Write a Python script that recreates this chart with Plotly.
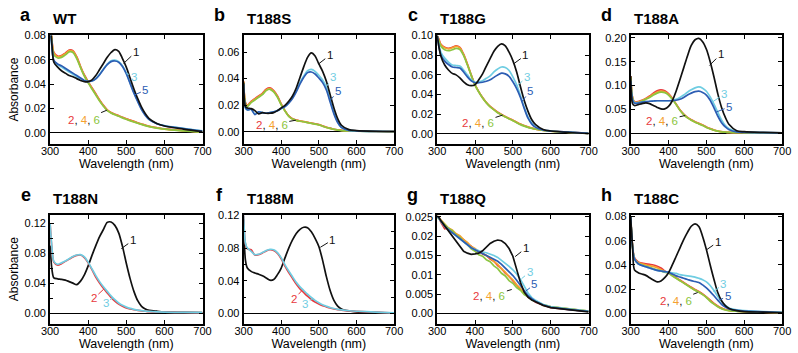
import plotly.graph_objects as go

# ---------------- data ----------------
WL = [300, 305, 310, 320, 330, 340, 350, 360, 370, 380, 390, 400, 410, 420, 430, 440, 450, 460,
      470, 480, 490, 500, 510, 520, 530, 540, 550, 560, 580, 600, 650, 700]

# a  WT
A1 = [0.095, 0.072, 0.058, 0.054, 0.051, 0.049, 0.047, 0.046, 0.0445, 0.043, 0.042, 0.042, 0.0435, 0.047, 0.052, 0.057, 0.062, 0.066, 0.0684, 0.067, 0.061, 0.054, 0.045, 0.036, 0.028, 0.021, 0.0155, 0.0115, 0.0075, 0.0055, 0.003, 0.0008]
A2 = [0.100, 0.076, 0.066, 0.063, 0.0635, 0.0655, 0.068, 0.0675, 0.0625, 0.0545, 0.0475, 0.042, 0.037, 0.032, 0.027, 0.0225, 0.0188, 0.0167, 0.0152, 0.014, 0.0127, 0.0115, 0.0103, 0.0093, 0.0082, 0.0072, 0.0062, 0.0053, 0.0041, 0.0031, 0.0017, 0.0005]
A3 = [0.092, 0.070, 0.059, 0.056, 0.054, 0.052, 0.050, 0.048, 0.046, 0.0445, 0.0425, 0.042, 0.0425, 0.0445, 0.048, 0.0525, 0.0565, 0.0592, 0.0598, 0.0585, 0.055, 0.049, 0.041, 0.033, 0.026, 0.0195, 0.0145, 0.011, 0.0075, 0.0058, 0.0035, 0.0015]
A4 = [0.100, 0.075, 0.0655, 0.0625, 0.063, 0.065, 0.0675, 0.067, 0.062, 0.054, 0.047, 0.0415, 0.0365, 0.0315, 0.0265, 0.0222, 0.0185, 0.0165, 0.015, 0.0138, 0.0125, 0.0113, 0.0101, 0.0091, 0.008, 0.007, 0.006, 0.0052, 0.004, 0.003, 0.0016, 0.0005]
A5 = [0.092, 0.071, 0.0595, 0.0565, 0.055, 0.053, 0.051, 0.049, 0.047, 0.045, 0.043, 0.0422, 0.0425, 0.0443, 0.0477, 0.052, 0.056, 0.0585, 0.059, 0.058, 0.0545, 0.0485, 0.0405, 0.0325, 0.0255, 0.019, 0.0142, 0.0108, 0.0074, 0.0057, 0.0034, 0.0014]
A6 = [0.098, 0.074, 0.064, 0.0615, 0.062, 0.064, 0.0665, 0.066, 0.061, 0.0535, 0.0465, 0.041, 0.036, 0.031, 0.026, 0.0218, 0.0182, 0.0162, 0.0147, 0.0135, 0.0122, 0.011, 0.0098, 0.0088, 0.0078, 0.0068, 0.0058, 0.005, 0.0038, 0.0029, 0.0015, 0.0004]

# b  T188S
B1 = [0.037, 0.019, 0.018, 0.0175, 0.016, 0.0135, 0.0145, 0.014, 0.014, 0.0145, 0.016, 0.018, 0.020, 0.023, 0.027, 0.033, 0.041, 0.049, 0.056, 0.0593, 0.057, 0.051, 0.0455, 0.038, 0.028, 0.018, 0.010, 0.005, 0.0017, 0.001, 0.0005, 0.0003]
B2 = [0.038, 0.022, 0.020, 0.023, 0.025, 0.027, 0.029, 0.032, 0.033, 0.031, 0.027, 0.021, 0.016, 0.012, 0.0098, 0.0088, 0.0082, 0.0078, 0.0072, 0.0066, 0.006, 0.0055, 0.0045, 0.0035, 0.0028, 0.002, 0.0015, 0.0011, 0.0008, 0.0006, 0.0004, 0.0002]
B3 = [0.036, 0.018, 0.0165, 0.017, 0.0135, 0.015, 0.0145, 0.014, 0.0145, 0.015, 0.016, 0.0175, 0.019, 0.022, 0.026, 0.031, 0.037, 0.042, 0.046, 0.047, 0.0455, 0.0425, 0.039, 0.0335, 0.024, 0.0145, 0.0075, 0.0035, 0.0012, 0.0008, 0.0004, 0.0003]
B4 = [0.038, 0.0215, 0.0195, 0.0225, 0.0245, 0.0265, 0.0285, 0.0315, 0.0325, 0.0305, 0.0265, 0.0205, 0.0158, 0.0118, 0.0097, 0.0087, 0.0081, 0.0077, 0.0071, 0.0065, 0.0059, 0.0054, 0.0044, 0.0034, 0.0027, 0.002, 0.0015, 0.0011, 0.0008, 0.0006, 0.0004, 0.0002]
B5 = [0.036, 0.018, 0.0165, 0.017, 0.013, 0.015, 0.0145, 0.014, 0.0145, 0.015, 0.016, 0.0175, 0.019, 0.0215, 0.025, 0.030, 0.036, 0.041, 0.0445, 0.045, 0.0435, 0.0405, 0.037, 0.0315, 0.0225, 0.0135, 0.007, 0.0032, 0.0012, 0.0008, 0.0004, 0.0003]
B6 = [0.037, 0.021, 0.019, 0.022, 0.024, 0.026, 0.028, 0.031, 0.032, 0.030, 0.026, 0.0203, 0.0157, 0.0117, 0.0096, 0.0086, 0.008, 0.0076, 0.007, 0.0064, 0.0058, 0.0053, 0.0043, 0.0033, 0.0026, 0.0019, 0.0014, 0.001, 0.0007, 0.0005, 0.0003, 0.0002]

# c  T188G
C1 = [0.10, 0.088, 0.079, 0.070, 0.065, 0.0615, 0.060, 0.057, 0.053, 0.050, 0.049, 0.050, 0.055, 0.061, 0.069, 0.0765, 0.084, 0.089, 0.0915, 0.0895, 0.083, 0.0745, 0.063, 0.048, 0.034, 0.023, 0.0144, 0.0094, 0.0045, 0.003, 0.0015, 0.0005]
C2 = [0.10, 0.096, 0.091, 0.088, 0.087, 0.088, 0.0895, 0.088, 0.081, 0.071, 0.060, 0.050, 0.043, 0.037, 0.032, 0.028, 0.025, 0.022, 0.0198, 0.0178, 0.0158, 0.014, 0.012, 0.010, 0.0085, 0.007, 0.006, 0.005, 0.0038, 0.003, 0.0018, 0.0006]
C3 = [0.10, 0.090, 0.083, 0.077, 0.073, 0.070, 0.0695, 0.069, 0.065, 0.060, 0.055, 0.0525, 0.053, 0.054, 0.0565, 0.059, 0.063, 0.066, 0.068, 0.0675, 0.0645, 0.058, 0.050, 0.039, 0.027, 0.017, 0.011, 0.0072, 0.004, 0.003, 0.0018, 0.0006]
C4 = [0.10, 0.095, 0.0905, 0.0875, 0.0865, 0.0875, 0.089, 0.0875, 0.0805, 0.0705, 0.0597, 0.0498, 0.0428, 0.0368, 0.0318, 0.0278, 0.0248, 0.0218, 0.0196, 0.0176, 0.0156, 0.0138, 0.0118, 0.0098, 0.0083, 0.0069, 0.0059, 0.0049, 0.0037, 0.0029, 0.0017, 0.0006]
C5 = [0.10, 0.088, 0.080, 0.074, 0.0705, 0.068, 0.0675, 0.067, 0.063, 0.058, 0.054, 0.052, 0.052, 0.0525, 0.0535, 0.055, 0.0575, 0.060, 0.0617, 0.061, 0.0585, 0.053, 0.046, 0.037, 0.026, 0.016, 0.010, 0.0067, 0.004, 0.003, 0.0018, 0.0006]
C6 = [0.10, 0.094, 0.089, 0.0855, 0.0845, 0.0855, 0.087, 0.0858, 0.0795, 0.070, 0.0595, 0.0497, 0.0426, 0.0366, 0.0316, 0.0276, 0.0245, 0.0215, 0.0193, 0.0173, 0.0153, 0.0135, 0.0115, 0.0095, 0.008, 0.0067, 0.0057, 0.0048, 0.0036, 0.0028, 0.0016, 0.0005]

# d  T188A
D1 = [0.12, 0.062, 0.058, 0.060, 0.062, 0.0635, 0.062, 0.058, 0.054, 0.051, 0.051, 0.056, 0.068, 0.088, 0.112, 0.137, 0.162, 0.184, 0.196, 0.199, 0.192, 0.176, 0.150, 0.118, 0.083, 0.054, 0.033, 0.018, 0.005, 0.003, 0.0015, 0.0005]
D2 = [0.12, 0.075, 0.066, 0.066, 0.069, 0.073, 0.078, 0.084, 0.089, 0.091, 0.089, 0.083, 0.073, 0.061, 0.049, 0.040, 0.033, 0.028, 0.024, 0.0205, 0.017, 0.013, 0.0095, 0.0065, 0.0045, 0.003, 0.0022, 0.0016, 0.001, 0.0007, 0.0004, 0.0002]
D3 = [0.11, 0.070, 0.064, 0.064, 0.065, 0.066, 0.067, 0.0675, 0.068, 0.068, 0.068, 0.068, 0.069, 0.071, 0.075, 0.080, 0.086, 0.091, 0.095, 0.097, 0.0945, 0.088, 0.076, 0.061, 0.044, 0.028, 0.016, 0.009, 0.003, 0.002, 0.001, 0.0005]
D4 = [0.119, 0.0745, 0.065, 0.065, 0.068, 0.072, 0.0765, 0.082, 0.0865, 0.088, 0.087, 0.0815, 0.072, 0.0605, 0.0485, 0.0395, 0.0325, 0.0275, 0.0235, 0.02, 0.0165, 0.0125, 0.0092, 0.0063, 0.0043, 0.0029, 0.0021, 0.0015, 0.001, 0.0007, 0.0004, 0.0002]
D5 = [0.11, 0.070, 0.063, 0.063, 0.065, 0.066, 0.067, 0.0675, 0.068, 0.068, 0.068, 0.068, 0.068, 0.069, 0.071, 0.075, 0.080, 0.084, 0.087, 0.088, 0.0855, 0.080, 0.069, 0.053, 0.036, 0.022, 0.013, 0.007, 0.0025, 0.0015, 0.001, 0.0005]
D6 = [0.118, 0.074, 0.064, 0.064, 0.067, 0.071, 0.075, 0.080, 0.084, 0.086, 0.085, 0.080, 0.071, 0.060, 0.048, 0.039, 0.032, 0.027, 0.023, 0.0195, 0.016, 0.012, 0.009, 0.006, 0.0042, 0.0028, 0.002, 0.0015, 0.001, 0.0007, 0.0004, 0.0002]

# e  T188N
E1 = [0.090, 0.058, 0.047, 0.0457, 0.045, 0.044, 0.042, 0.040, 0.038, 0.0426, 0.051, 0.063, 0.077, 0.090, 0.102, 0.1115, 0.121, 0.1215, 0.117, 0.107, 0.089, 0.0665, 0.046, 0.029, 0.0165, 0.009, 0.0055, 0.0038, 0.0025, 0.0015, 0.001, 0.0005]
E2 = [0.12, 0.085, 0.068, 0.064, 0.066, 0.069, 0.072, 0.075, 0.077, 0.0775, 0.074, 0.067, 0.058, 0.048, 0.040, 0.033, 0.027, 0.021, 0.016, 0.012, 0.0092, 0.007, 0.0055, 0.0045, 0.0037, 0.003, 0.0025, 0.002, 0.0015, 0.0012, 0.0008, 0.0004]
E3 = [0.12, 0.087, 0.069, 0.065, 0.067, 0.0695, 0.0725, 0.0755, 0.0775, 0.078, 0.075, 0.068, 0.059, 0.050, 0.042, 0.035, 0.029, 0.023, 0.018, 0.0135, 0.0103, 0.008, 0.0062, 0.005, 0.004, 0.0033, 0.0027, 0.0022, 0.0016, 0.0013, 0.0009, 0.0005]

# f  T188M
F1 = [0.115, 0.065, 0.0556, 0.0515, 0.0495, 0.048, 0.046, 0.0435, 0.0407, 0.0415, 0.0475, 0.0556, 0.068, 0.080, 0.090, 0.098, 0.103, 0.1055, 0.105, 0.100, 0.092, 0.082, 0.065, 0.045, 0.028, 0.016, 0.009, 0.0055, 0.003, 0.0018, 0.001, 0.0005]
F2 = [0.12, 0.085, 0.079, 0.078, 0.0715, 0.072, 0.074, 0.0765, 0.078, 0.077, 0.0735, 0.067, 0.058, 0.050, 0.043, 0.036, 0.030, 0.0255, 0.021, 0.017, 0.014, 0.0115, 0.0095, 0.008, 0.0066, 0.0055, 0.0047, 0.004, 0.003, 0.0025, 0.0015, 0.0005]
F3 = [0.12, 0.086, 0.080, 0.076, 0.072, 0.0725, 0.0745, 0.077, 0.0785, 0.078, 0.0745, 0.068, 0.0595, 0.052, 0.045, 0.038, 0.0325, 0.028, 0.0235, 0.0195, 0.016, 0.013, 0.0105, 0.0088, 0.0072, 0.006, 0.005, 0.0043, 0.0032, 0.0026, 0.0016, 0.0006]

# g  T188Q
G1 = [0.0252, 0.0248, 0.0240, 0.0227, 0.0212, 0.0200, 0.0186, 0.0174, 0.0161, 0.0156, 0.0153, 0.0154, 0.0156, 0.0162, 0.0172, 0.0181, 0.0187, 0.0190, 0.0188, 0.0181, 0.0168, 0.0148, 0.0114, 0.0080, 0.0055, 0.0042, 0.0035, 0.0030, 0.0021, 0.0015, 0.0009, 0.0004]
G2 = [0.0250, 0.0246, 0.0236, 0.0219, 0.0221, 0.0209, 0.0206, 0.0196, 0.0191, 0.0180, 0.0174, 0.0165, 0.0161, 0.0154, 0.0150, 0.0141, 0.0135, 0.0124, 0.0116, 0.0104, 0.0096, 0.0084, 0.0075, 0.0062, 0.0053, 0.0042, 0.0037, 0.0029, 0.0022, 0.0015, 0.0010, 0.0005]
G3 = [0.0250, 0.0246, 0.0238, 0.0225, 0.0216, 0.0208, 0.0200, 0.0192, 0.0184, 0.0176, 0.0170, 0.0166, 0.0162, 0.0159, 0.0157, 0.0154, 0.0150, 0.0145, 0.0138, 0.0130, 0.0122, 0.0113, 0.0102, 0.0088, 0.0070, 0.0053, 0.0041, 0.0034, 0.0023, 0.0017, 0.0011, 0.0006]
G4 = [0.0252, 0.0249, 0.0242, 0.0231, 0.0221, 0.0216, 0.0206, 0.0201, 0.0191, 0.0184, 0.0173, 0.0168, 0.0160, 0.0157, 0.0149, 0.0144, 0.0134, 0.0127, 0.0115, 0.0107, 0.0095, 0.0087, 0.0074, 0.0065, 0.0052, 0.0045, 0.0036, 0.0032, 0.0021, 0.0017, 0.0011, 0.0006]
G5 = [0.0252, 0.0247, 0.0239, 0.0226, 0.0217, 0.0209, 0.0201, 0.0193, 0.0185, 0.0177, 0.0170, 0.0165, 0.0160, 0.0156, 0.0151, 0.0146, 0.0141, 0.0135, 0.0127, 0.0118, 0.0108, 0.0098, 0.0086, 0.0072, 0.0058, 0.0046, 0.0038, 0.0031, 0.0022, 0.0016, 0.0010, 0.0005]
G6 = [0.0250, 0.0245, 0.0238, 0.0229, 0.0220, 0.0214, 0.0203, 0.0197, 0.0186, 0.0178, 0.0167, 0.0161, 0.0152, 0.0148, 0.0139, 0.0134, 0.0123, 0.0116, 0.0104, 0.0097, 0.0085, 0.0078, 0.0067, 0.0060, 0.0049, 0.0043, 0.0035, 0.0031, 0.0023, 0.0018, 0.0012, 0.0006]

# h  T188C
H1 = [0.080, 0.055, 0.036, 0.0336, 0.0325, 0.0314, 0.0295, 0.0276, 0.026, 0.0268, 0.0295, 0.0336, 0.040, 0.047, 0.054, 0.061, 0.067, 0.072, 0.074, 0.0718, 0.0636, 0.0527, 0.040, 0.028, 0.0172, 0.0104, 0.0063, 0.0041, 0.0022, 0.0015, 0.001, 0.0005]
H2 = [0.080, 0.056, 0.046, 0.0425, 0.0415, 0.041, 0.0405, 0.040, 0.039, 0.0375, 0.035, 0.0335, 0.0315, 0.0295, 0.0275, 0.0255, 0.0235, 0.0215, 0.0197, 0.018, 0.016, 0.0136, 0.011, 0.0082, 0.006, 0.0043, 0.0032, 0.0025, 0.0019, 0.0015, 0.001, 0.0006]
H3 = [0.080, 0.055, 0.045, 0.041, 0.0395, 0.0385, 0.0375, 0.0365, 0.0355, 0.035, 0.0345, 0.034, 0.0335, 0.033, 0.032, 0.0315, 0.031, 0.0305, 0.030, 0.029, 0.0278, 0.026, 0.023, 0.0188, 0.014, 0.0098, 0.0065, 0.0045, 0.003, 0.0022, 0.0015, 0.0008]
H4 = [0.080, 0.0555, 0.0455, 0.042, 0.041, 0.040, 0.0395, 0.0388, 0.0378, 0.0362, 0.0345, 0.0334, 0.0312, 0.0292, 0.0272, 0.0252, 0.0232, 0.0212, 0.0193, 0.0177, 0.0157, 0.0133, 0.0105, 0.0079, 0.0057, 0.004, 0.003, 0.0023, 0.0018, 0.0014, 0.001, 0.0006]
H5 = [0.080, 0.055, 0.045, 0.041, 0.0395, 0.0385, 0.0375, 0.0365, 0.0355, 0.035, 0.0345, 0.034, 0.0325, 0.031, 0.030, 0.029, 0.028, 0.027, 0.0263, 0.0255, 0.0235, 0.021, 0.018, 0.0145, 0.0108, 0.0075, 0.0052, 0.0037, 0.0025, 0.0019, 0.0013, 0.0007]
H6 = [0.080, 0.055, 0.045, 0.041, 0.040, 0.039, 0.038, 0.037, 0.036, 0.035, 0.034, 0.0333, 0.031, 0.029, 0.027, 0.025, 0.023, 0.021, 0.019, 0.0175, 0.0155, 0.0131, 0.010, 0.0076, 0.0055, 0.0038, 0.0028, 0.0022, 0.0017, 0.0014, 0.001, 0.0006]

X_TICKS = [300, 400, 500, 600, 700]
G_TICKS = [0.0, 0.005, 0.01, 0.015, 0.02, 0.025]
G_TICKTEXT = ["0.00", "0.005", "0.01", "0.015", "0.02", "0.025"]

# ---------------- styling ----------------
COL = {"1": "#111111", "2": "#e8383d", "3": "#6fcde2", "4": "#f5a12f", "5": "#2c5db3", "6": "#8cc540"}
FONT = "Liberation Sans, Arial, Helvetica, sans-serif"
W, H = 798, 353

COLS = [(42, 198), (240, 394), (438, 593), (636, 791)]
ROWS = [(30, 140), (212.5, 323)]

LBL246 = ('<span style="color:%s">2</span>, <span style="color:%s">4</span>, '
          '<span style="color:%s">6</span>') % (COL["2"], COL["4"], COL["6"])

panels = [
    dict(L="a", name="WT", S=[("2", A2), ("4", A4), ("6", A6), ("3", A3), ("5", A5), ("1", A1)],
         yr=[-0.009, 0.08], yt=[0, 0.02, 0.04, 0.06, 0.08],
         ann=[("1", "1", 525, 0.0665, 493, 0.057), ("3", "3", 519, 0.046, 500, 0.049),
              ("5", "5", 550, 0.035, 521, 0.031), (LBL246, "1", 388, 0.0105, 449, 0.0185)]),
    dict(L="b", name="T188S", S=[("2", B2), ("4", B4), ("6", B6), ("3", B3), ("5", B5), ("1", B1)],
         yr=[-0.0088, 0.0724], yt=[0, 0.02, 0.04, 0.06],
         ann=[("1", "1", 529, 0.0576, 499, 0.051), ("3", "3", 538, 0.041, 521, 0.0345),
              ("5", "5", 551, 0.031, 530, 0.0235), (LBL246, "1", 375, 0.0055, 439, 0.0088)]),
    dict(L="c", name="T188G", S=[("2", C2), ("4", C4), ("6", C6), ("3", C3), ("5", C5), ("1", C1)],
         yr=[-0.0098, 0.10], yt=[0, 0.02, 0.04, 0.06, 0.08, 0.10],
         ann=[("1", "1", 533, 0.080, 503, 0.0715), ("3", "3", 537, 0.058, 512, 0.049),
              ("5", "5", 546, 0.044, 524, 0.033), (LBL246, "1", 408, 0.011, 473, 0.0192)]),
    dict(L="d", name="T188A", S=[("2", D2), ("4", D4), ("6", D6), ("3", D3), ("5", D5), ("1", D1)],
         yr=[-0.022, 0.205], yt=[0, 0.05, 0.10, 0.15, 0.20],
         ann=[("1", "1", 538, 0.166, 508, 0.142), ("3", "3", 547, 0.082, 517, 0.066),
              ("5", "5", 560, 0.055, 525, 0.044), (LBL246, "1", 383, 0.026, 444, 0.037)]),
    dict(L="e", name="T188N", S=[("1", E1), ("2", E2), ("3", E3)],
         yr=[-0.0139, 0.131], yt=[0, 0.04, 0.08, 0.12], minor=0.02,
         ann=[("1", "1", 517, 0.097, 487, 0.086), ("2", "2", 415, 0.0196, 441, 0.032),
              ("3", "3", 446, 0.0135, 465, 0.0205)]),
    dict(L="f", name="T188M", S=[("1", F1), ("2", F2), ("3", F3)],
         yr=[-0.0124, 0.1207], yt=[0, 0.04, 0.08, 0.12], minor=0.02,
         ann=[("1", "1", 536, 0.090, 504, 0.081), ("2", "2", 434, 0.0173, 454, 0.0275),
              ("3", "3", 464, 0.012, 484, 0.0185)]),
    dict(L="g", name="T188Q", S=[("2", G2), ("4", G4), ("6", G6), ("3", G3), ("5", G5), ("1", G1)],
         yr=[-0.0026, 0.0255], yt=G_TICKS, ytext=G_TICKTEXT, linear=True,
         ann=[("1", "1", 534, 0.0169, 506, 0.0147), ("3", "3", 544, 0.0107, 523, 0.0090),
              ("5", "5", 557, 0.0075, 534, 0.0058), (LBL246, "1", 438, 0.0045, 497, 0.0062)]),
    dict(L="h", name="T188C", S=[("2", H2), ("4", H4), ("6", H6), ("3", H3), ("5", H5), ("1", H1)],
         yr=[-0.0084, 0.0814], yt=[0, 0.02, 0.04, 0.06, 0.08],
         ann=[("1", "1", 530, 0.059, 501, 0.0527), ("3", "3", 545, 0.024, 518, 0.018),
              ("5", "5", 556, 0.014, 530, 0.0105), (LBL246, "1", 419, 0.0104, 477, 0.0172)]),
]

fig = go.Figure()
layout = dict(width=W, height=H, margin=dict(l=0, r=0, t=0, b=0), showlegend=False,
              paper_bgcolor="white", plot_bgcolor="white", font=dict(family=FONT, color="black"),
              hovermode=False)
annotations = []

for i, p in enumerate(panels):
    r, c = divmod(i, 4)
    n = "" if i == 0 else str(i + 1)
    xa, ya = "x" + n, "y" + n
    x0, x1 = COLS[c]
    y0, y1 = ROWS[r]
    for key, vals in p["S"]:
        line = dict(color=COL[key], width=1.7)
        if p.get("linear"):
            line["shape"] = "linear"
        else:
            line["shape"] = "spline"
            line["smoothing"] = 0.8
        fig.add_trace(go.Scatter(x=WL, y=vals, mode="lines", xaxis=xa, yaxis=ya, line=line))
    xax = dict(domain=[x0 / W, x1 / W], range=[300, 700], tickvals=X_TICKS, anchor=ya,
               ticks="inside", ticklen=4, tickwidth=1.2, tickcolor="black",
               showline=True, linewidth=1.8, linecolor="black", mirror="ticks",
               showgrid=False, zeroline=False, tickfont=dict(size=11, color="black"),
               ticklabelstandoff=-4,
               title=dict(text="Wavelength (nm)", font=dict(size=12.5, color="black"), standoff=2))
    yax = dict(domain=[1 - y1 / H, 1 - y0 / H], range=p["yr"], tickvals=p["yt"], anchor=xa,
               ticks="inside", ticklen=4, tickwidth=1.2, tickcolor="black",
               showline=True, linewidth=1.8, linecolor="black", mirror="ticks",
               showgrid=False, zeroline=True, zerolinecolor="black", zerolinewidth=1.2,
               tickfont=dict(size=11, color="black"))
    if "ytext" in p:
        yax["ticktext"] = p["ytext"]
    else:
        yax["tickformat"] = ".2f"
    if "minor" in p:
        yax["minor"] = dict(dtick=p["minor"], ticks="inside", ticklen=3, tickwidth=1.2, tickcolor="black")
    if c == 0:
        yax["title"] = dict(text="Absorbance", font=dict(size=12, color="black"), standoff=3)
    layout["xaxis" + n] = xax
    layout["yaxis" + n] = yax

    # panel letter and name
    ly = 9 if r == 0 else 192
    ty = 13 if r == 0 else 196
    annotations.append(dict(text="<b>%s</b>" % p["L"], xref="paper", yref="paper",
                            x=(x0 - 25) / W, y=1 - ly / H, xanchor="center", yanchor="middle",
                            showarrow=False, font=dict(size=18, color="black")))
    annotations.append(dict(text="<b>%s</b>" % p["name"], xref="paper", yref="paper",
                            x=(x0 + 1) / W, y=1 - ty / H, xanchor="left", yanchor="middle",
                            showarrow=False, font=dict(size=15, color="black")))
    # curve labels with leader lines
    for txt, ck, tx, tyv, hx, hy in p["ann"]:
        annotations.append(dict(text=txt, x=hx, y=hy, xref=xa, yref=ya,
                                ax=tx, ay=tyv, axref=xa, ayref=ya,
                                showarrow=True, arrowhead=0, arrowwidth=1,
                                arrowcolor=COL[ck], standoff=0,
                                font=dict(size=11.5, color=COL[ck]),
                                xanchor="center", yanchor="middle"))

layout["annotations"] = annotations
fig.update_layout(**layout)
fig.write_html("out.html")
